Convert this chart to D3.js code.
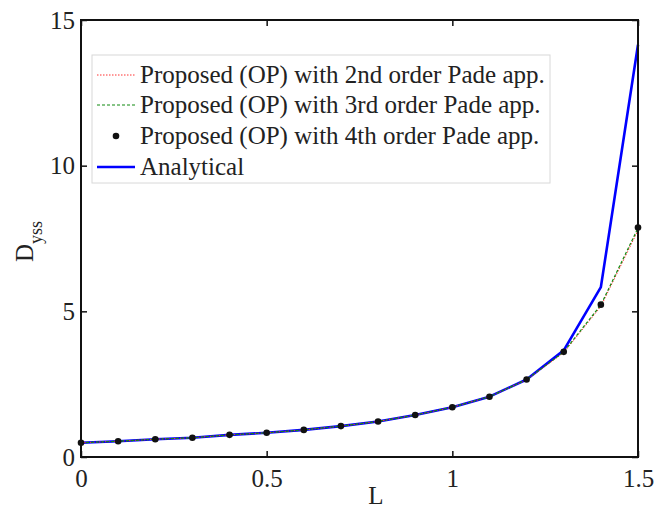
<!DOCTYPE html>
<html>
<head>
<meta charset="utf-8">
<script src="https://cdn.jsdelivr.net/npm/d3@7"></script>
<style>
  body { margin: 0; background: #fff; }
  text { font-family: "Liberation Serif", "Times New Roman", serif; fill: #222; }
</style>
</head>
<body>
<div id="chart"></div>
<script>
/* -----------------    DATA     ------------------ */
const lValues = [0, 0.1, 0.2, 0.3, 0.4, 0.5, 0.6, 0.7, 0.8, 0.9, 1.0, 1.1, 1.2, 1.3, 1.4, 1.5];

const pade2nd = [0.49, 0.54, 0.61, 0.66, 0.76, 0.83, 0.93, 1.06, 1.22, 1.44, 1.71, 2.07, 2.65, 3.58, 5.17, 7.78];
const pade3rd = [0.49, 0.54, 0.61, 0.66, 0.76, 0.83, 0.93, 1.06, 1.22, 1.44, 1.71, 2.07, 2.66, 3.61, 5.22, 7.86];
const pade4th = [0.49, 0.54, 0.61, 0.66, 0.76, 0.83, 0.93, 1.06, 1.22, 1.44, 1.71, 2.07, 2.66, 3.61, 5.23, 7.88];
const analytical = [0.49, 0.54, 0.61, 0.66, 0.76, 0.83, 0.93, 1.06, 1.22, 1.44, 1.71, 2.07, 2.66, 3.66, 5.83, 14.15];

const xTicks = [0, 0.5, 1, 1.5];
const yTicks = [0, 5, 10, 15];

const legendLabels = [
    'Proposed (OP) with 2nd order Pade app.',
    'Proposed (OP) with 3rd order Pade app.',
    'Proposed (OP) with 4th order Pade app.',
    'Analytical'
];

/* -----------------    SETTINGS     ------------------ */
const width = 668;
const height = 510;
const margin = { top: 20, right: 30, bottom: 53, left: 81 };
const fontSize = 25;

const svg = d3.select('#chart')
    .append('svg')
    .attr('width', width)
    .attr('height', height);

const innerW = width - margin.left - margin.right;
const innerH = height - margin.top - margin.bottom;

// Scales
const xScale = d3.scaleLinear().domain([0, 1.5]).range([margin.left, margin.left + innerW]);
const yScale = d3.scaleLinear().domain([0, 15]).range([margin.top + innerH, margin.top]);

const plot = svg.append('g');

// Series lines
const line = d3.line()
    .x((d, i) => xScale(lValues[i]))
    .y(d => yScale(d));

plot.append('path')
    .datum(analytical)
    .attr('d', line)
    .attr('fill', 'none')
    .attr('stroke', '#0000ff')
    .attr('stroke-width', 2.6)
    .attr('stroke-linejoin', 'round');

plot.append('path')
    .datum(pade2nd)
    .attr('d', line)
    .attr('fill', 'none')
    .attr('stroke', '#ff3030')
    .attr('stroke-width', 1)
    .attr('stroke-dasharray', '1.5,1.5');

plot.append('path')
    .datum(pade3rd)
    .attr('d', line)
    .attr('fill', 'none')
    .attr('stroke', '#108a10')
    .attr('stroke-width', 1.2)
    .attr('stroke-dasharray', '3,2');

plot.selectAll('circle.pt')
    .data(pade4th)
    .enter()
    .append('circle')
    .attr('class', 'pt')
    .attr('cx', (d, i) => xScale(lValues[i]))
    .attr('cy', d => yScale(d))
    .attr('r', 3.3)
    .attr('fill', '#111');

// Axes (box with inward ticks)
const tickLen = 6;
svg.append('g')
    .attr('transform', `translate(0, ${margin.top + innerH})`)
    .call(d3.axisBottom(xScale).tickValues(xTicks).tickSize(-tickLen).tickPadding(12).tickFormat(d3.format('')))
    .call(g => g.select('.domain').remove());

svg.append('g')
    .attr('transform', `translate(0, ${margin.top})`)
    .call(d3.axisTop(xScale).tickValues(xTicks).tickSize(-tickLen).tickFormat(''))
    .call(g => g.select('.domain').remove());

svg.append('g')
    .attr('transform', `translate(${margin.left}, 0)`)
    .call(d3.axisLeft(yScale).tickValues(yTicks).tickSize(-tickLen).tickPadding(6).tickFormat(d3.format('')))
    .call(g => g.select('.domain').remove());

svg.append('g')
    .attr('transform', `translate(${margin.left + innerW}, 0)`)
    .call(d3.axisRight(yScale).tickValues(yTicks).tickSize(-tickLen).tickFormat(''))
    .call(g => g.select('.domain').remove());

svg.selectAll('.tick line').attr('stroke', '#111').attr('stroke-width', 1.5);
svg.selectAll('.tick text')
    .attr('font-size', fontSize)
    .attr('fill', '#222')
    .style('font-family', '"Liberation Serif", "Times New Roman", serif');

svg.append('rect')
    .attr('x', margin.left)
    .attr('y', margin.top)
    .attr('width', innerW)
    .attr('height', innerH)
    .attr('fill', 'none')
    .attr('stroke', '#111')
    .attr('stroke-width', 2);

// Axis labels
svg.append('text')
    .attr('x', 376)
    .attr('y', 504)
    .attr('text-anchor', 'middle')
    .attr('font-size', fontSize)
    .text('L');

const yLab = svg.append('text')
    .attr('transform', `translate(33, ${yScale(7.5) + 3}) rotate(-90)`)
    .attr('text-anchor', 'middle')
    .attr('font-size', fontSize);
yLab.append('tspan').text('D');
yLab.append('tspan').attr('dy', 9).attr('font-size', 18).text('yss');

// Legend
const legend = svg.append('g').attr('transform', 'translate(92, 55)');
legend.append('rect')
    .attr('width', 458)
    .attr('height', 128)
    .attr('fill', '#fff')
    .attr('stroke', '#d8d8d8')
    .attr('stroke-width', 1);

const rowY = [20, 50, 81, 112];
legendLabels.forEach((label, i) => {
    const y = rowY[i];
    if (i === 0) {
        legend.append('line').attr('x1', 5).attr('x2', 43).attr('y1', y).attr('y2', y)
            .attr('stroke', '#ff3030').attr('stroke-width', 1).attr('stroke-dasharray', '1.5,1.5');
    } else if (i === 1) {
        legend.append('line').attr('x1', 5).attr('x2', 43).attr('y1', y).attr('y2', y)
            .attr('stroke', '#108a10').attr('stroke-width', 1.2).attr('stroke-dasharray', '3,2');
    } else if (i === 2) {
        legend.append('circle').attr('cx', 24).attr('cy', y).attr('r', 3.3).attr('fill', '#111');
    } else {
        legend.append('line').attr('x1', 5).attr('x2', 43).attr('y1', y).attr('y2', y)
            .attr('stroke', '#0000ff').attr('stroke-width', 2.6);
    }
    legend.append('text')
        .attr('x', 48)
        .attr('y', y + 8)
        .attr('font-size', fontSize)
        .text(label);
});
</script>
</body>
</html>
